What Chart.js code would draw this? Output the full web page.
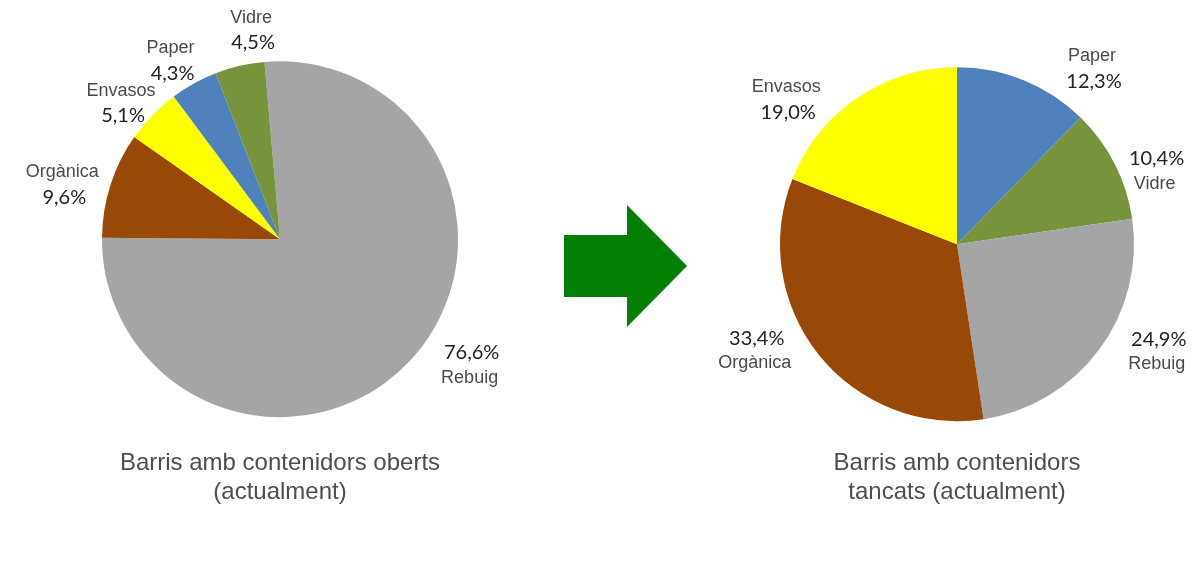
<!DOCTYPE html>
<html lang="ca">
<head>
    <meta charset="UTF-8">
    <title>Barris amb contenidors oberts / tancats</title>
    <script src="https://cdn.jsdelivr.net/npm/chart.js"></script>
    <style>
        body {
            margin: 0;
            width: 1200px;
            height: 565px;
            background-color: white;
            overflow: hidden;
            position: relative;
        }
        .chart-box {
            position: absolute;
            top: 0;
            height: 565px;
        }
        #leftBox { left: 0; width: 560px; }
        #rightBox { left: 640px; width: 560px; }
        .arrow {
            position: absolute;
            left: 564px;
            top: 205px;
            width: 123px;
            height: 122px;
            background-color: #038003;
            clip-path: polygon(0 30px, 63px 30px, 63px 0, 123px 61px, 63px 122px, 63px 92px, 0 92px);
            z-index: 2;
        }
    </style>
</head>
<body>
    <div class="chart-box" id="leftBox"><canvas id="leftChart"></canvas></div>
    <div class="arrow"></div>
    <div class="chart-box" id="rightBox"><canvas id="rightChart"></canvas></div>

    <script>
        // Data
        const leftLabels = ['Rebuig', 'Orgànica', 'Envasos', 'Paper', 'Vidre'];
        const leftValues = [76.6, 9.6, 5.1, 4.3, 4.5];
        const rightLabels = ['Paper', 'Vidre', 'Rebuig', 'Orgànica', 'Envasos'];
        const rightValues = [12.3, 10.4, 24.9, 33.4, 19.0];

        const colors = {
            'Rebuig': '#a5a5a5',
            'Orgànica': '#984807',
            'Envasos': '#ffff00',
            'Paper': '#4f81bd',
            'Vidre': '#77933c'
        };

        const fmt = v => v.toFixed(1).replace('.', ',') + '%';

        // Draws "name / value" labels around each slice
        const sliceLabels = {
            id: 'sliceLabels',
            afterDatasetsDraw(chart, args, opts) {
                const ctx = chart.ctx;
                const arcs = chart.getDatasetMeta(0).data;
                const values = chart.data.datasets[0].data;
                ctx.save();
                ctx.textAlign = 'center';
                ctx.textBaseline = 'middle';
                arcs.forEach((arc, i) => {
                    const p = arc.getProps(['x', 'y', 'startAngle', 'endAngle', 'outerRadius'], true);
                    const mid = (p.startAngle + p.endAngle) / 2;
                    const d = p.outerRadius + 38;
                    const nudge = opts.nudge[i];
                    const cx = p.x + Math.cos(mid) * d + nudge[0];
                    const cy = p.y + Math.sin(mid) * d + nudge[1];
                    const pctFirst = opts.pctFirst[i];
                    const nameY = pctFirst ? cy + 13 : cy - 12;
                    const pctY = pctFirst ? cy - 12 : cy + 13;
                    ctx.font = '18px "Liberation Sans", Arial, sans-serif';
                    ctx.fillStyle = '#4a4a4a';
                    ctx.fillText(chart.data.labels[i], cx, nameY);
                    ctx.font = '20px Lato, "Open Sans", sans-serif';
                    ctx.fillStyle = '#222222';
                    ctx.fillText(fmt(values[i]), cx + 2, pctY);
                });
                ctx.restore();
            }
        };

        function makePie(canvasId, labels, values, title, rotation, padding, titlePad, nudge, pctFirst) {
            return new Chart(document.getElementById(canvasId), {
                type: 'pie',
                data: {
                    labels: labels,
                    datasets: [{
                        data: values,
                        backgroundColor: labels.map(l => colors[l]),
                        borderWidth: 0,
                        hoverOffset: 0
                    }]
                },
                options: {
                    responsive: true,
                    maintainAspectRatio: false,
                    animation: false,
                    rotation: rotation,
                    layout: { padding: padding },
                    events: [],
                    plugins: {
                        legend: { display: false },
                        tooltip: { enabled: false },
                        title: {
                            display: true,
                            position: 'bottom',
                            text: title,
                            color: '#4d4d4d',
                            font: { family: '"Liberation Sans", Arial, sans-serif', size: 24, weight: 'normal', lineHeight: 1.2 },
                            padding: { top: titlePad, bottom: 0 }
                        },
                        sliceLabels: { nudge: nudge, pctFirst: pctFirst }
                    }
                },
                plugins: [sliceLabels]
            });
        }

        makePie('leftChart', leftLabels, leftValues,
            ['Barris amb contenidors oberts', '(actualment)'],
            -5,
            { left: 102, right: 102, top: 61, bottom: 58 },
            32,
            [[31, -21], [-12, 11], [-4, 14], [-5, 10], [20, 1]],
            [true, false, false, false, false]);

        makePie('rightChart', rightLabels, rightValues,
            ['Barris amb contenidors', 'tancats (actualment)'],
            0,
            { left: 140, right: 66, top: 67, bottom: 58 },
            28,
            [[54, 23], [6, 24], [27, -21], [-34, -28], [-50, 33]],
            [false, true, true, true, false]);
    </script>
</body>
</html>
